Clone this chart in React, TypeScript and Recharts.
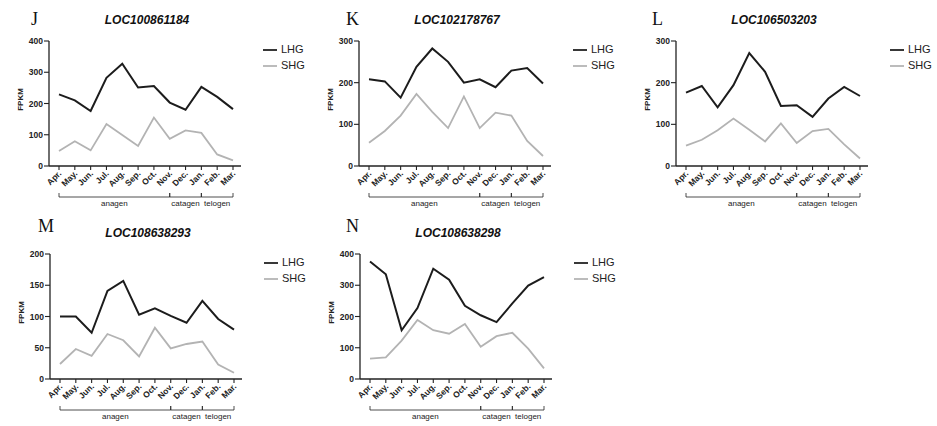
import React from 'react';
import { LineChart, Line, XAxis, YAxis, Legend } from 'recharts';

const months = ['Apr.', 'May.', 'Jun.', 'Jul.', 'Aug.', 'Sep.', 'Oct.', 'Nov.', 'Dec.', 'Jan.', 'Feb.', 'Mar.'];

const phases = [
  { name: 'anagen', from: 'Apr.', to: 'Nov.' },
  { name: 'catagen', from: 'Nov.', to: 'Jan.' },
  { name: 'telogen', from: 'Jan.', to: 'Mar.' },
];

const jLHG = [229, 210, 176, 282, 327, 251, 256, 203, 180, 253, 221, 182];
const jSHG = [48, 79, 50, 134, 99, 64, 155, 87, 114, 106, 37, 18];
const kLHG = [208, 203, 164, 238, 282, 250, 200, 208, 189, 229, 235, 198];
const kSHG = [56, 84, 121, 173, 130, 91, 167, 91, 128, 121, 60, 24];
const lLHG = [176, 192, 141, 194, 271, 226, 144, 146, 118, 162, 190, 168];
const lSHG = [49, 63, 86, 114, 87, 59, 102, 55, 84, 89, 52, 18];
const mLHG = [100, 100, 74, 141, 157, 103, 113, 101, 90, 125, 96, 79];
const mSHG = [24, 48, 37, 72, 62, 36, 82, 49, 56, 60, 23, 10];
const nLHG = [376, 335, 156, 227, 353, 318, 234, 204, 182, 242, 299, 326];
const nSHG = [65, 69, 123, 189, 156, 145, 176, 103, 137, 148, 97, 34];

const ticks400 = [0, 100, 200, 300, 400];
const ticks300 = [0, 100, 200, 300];
const ticks200 = [0, 50, 100, 150, 200];

const FONT = '"Liberation Sans", Arial, sans-serif';
const INK = '#222';

// month label + the phase brackets underneath; ticks render in order so
// the x of the first month of each phase is known when the last one is drawn
function makeMonthTick() {
  const xs: Record<string, number> = {};
  return (props: any) => {
    const { x, y, payload } = props;
    const v = payload.value;
    xs[v] = x;
    const axisY = y - 4;
    const by = axisY + 31;
    const ends = phases.filter((p) => p.to === v);
    return (
      <g>
        <text
          x={x + 3}
          y={y + 4}
          transform={`rotate(-45, ${x + 3}, ${y + 4})`}
          textAnchor="end"
          fontSize={8.5}
          fontWeight="bold"
          fill={INK}
          fontFamily={FONT}
        >
          {v}
        </text>
        {ends.map((p) => {
          const x0 = xs[p.from];
          return (
            <g key={p.name}>
              <line x1={x0} x2={x} y1={by} y2={by} stroke={INK} strokeWidth={0.8} />
              <line x1={x0} x2={x0} y1={by - 4} y2={by} stroke={INK} strokeWidth={0.8} />
              <line x1={x} x2={x} y1={by - 4} y2={by} stroke={INK} strokeWidth={0.8} />
              <text
                x={(x0 + x) / 2}
                y={by + 9}
                textAnchor="middle"
                fontSize={8}
                fill={INK}
                fontFamily={FONT}
              >
                {p.name}
              </text>
            </g>
          );
        })}
      </g>
    );
  };
}

function fpkmLabel(props: any) {
  const { viewBox } = props;
  const cx = viewBox.x + 20;
  const cy = viewBox.y + viewBox.height / 2 - 4;
  return (
    <text
      x={cx}
      y={cy}
      transform={`rotate(-90, ${cx}, ${cy})`}
      textAnchor="middle"
      dominantBaseline="central"
      fontSize={8}
      fontWeight="bold"
      fill={INK}
      fontFamily={FONT}
    >
      FPKM
    </text>
  );
}

interface IPanel {
  letter: string;
  gene: string;
  lhg: number[];
  shg: number[];
  yTicks: number[];
  left: number;
  top: number;
  letterX: number;
  letterY: number;
}

function Panel({ letter, gene, lhg, shg, yTicks, left, top, letterX, letterY }: IPanel) {
  const data = months.map((m, i) => ({ month: m, LHG: lhg[i], SHG: shg[i] }));
  const monthTick = makeMonthTick();
  return (
    <div style={{ position: 'absolute', left, top, width: 310, height: 213 }}>
      <LineChart
        width={310}
        height={213}
        data={data}
        margin={{ top: 41, right: 69, left: 0, bottom: 0 }}
        style={{ fontFamily: FONT }}
      >
        <XAxis
          dataKey="month"
          interval={0}
          height={47}
          tickSize={4}
          tickMargin={0}
          padding={{ left: 10, right: 8 }}
          axisLine={{ stroke: INK, strokeWidth: 1.3 }}
          tickLine={{ stroke: INK, strokeWidth: 1.1 }}
          tick={monthTick}
        />
        <YAxis
          width={49}
          domain={[0, yTicks[yTicks.length - 1]]}
          ticks={yTicks}
          interval={0}
          tickSize={5}
          tickMargin={1}
          axisLine={{ stroke: INK, strokeWidth: 1.3 }}
          tickLine={{ stroke: INK, strokeWidth: 1.1 }}
          tick={{ fontSize: 8.5, fontWeight: 'bold', fill: INK, fontFamily: FONT }}
          label={fpkmLabel}
        />
        <Legend
          layout="vertical"
          align="center"
          verticalAlign="middle"
          iconSize={14}
          wrapperStyle={{ left: 263, top: 41, fontSize: 11, lineHeight: '16px', fontFamily: FONT }}
          formatter={(value: string) => <span style={{ color: INK }}>{value}</span>}
        />
        <Line
          dataKey="LHG"
          type="linear"
          stroke="#1c1c1c"
          strokeWidth={2}
          dot={false}
          legendType="plainline"
          isAnimationActive={false}
        />
        <Line
          dataKey="SHG"
          type="linear"
          stroke="#b3b3b3"
          strokeWidth={1.8}
          dot={false}
          legendType="plainline"
          isAnimationActive={false}
        />
      </LineChart>
      <div
        style={{
          position: 'absolute', left: letterX, top: letterY - 10, lineHeight: '20px',
          fontSize: 18, fontFamily: '"Liberation Serif", serif', color: '#111',
        }}
      >
        {letter}
      </div>
      <div
        style={{
          position: 'absolute', left: 47, top: 13, width: 200, lineHeight: '14px', textAlign: 'center',
          fontSize: 12, fontWeight: 'bold', fontStyle: 'italic', fontFamily: FONT, color: '#111',
        }}
      >
        {gene}
      </div>
    </div>
  );
}

export default function App() {
  return (
    <div style={{ position: 'absolute', left: 0, top: 0, width: 937, height: 426, background: '#fff' }}>
      <Panel letter="J" gene="LOC100861184" lhg={jLHG} shg={jSHG} yTicks={ticks400} left={0} top={0} letterX={31} letterY={19} />
      <Panel letter="K" gene="LOC102178767" lhg={kLHG} shg={kSHG} yTicks={ticks300} left={310} top={0} letterX={36} letterY={19} />
      <Panel letter="L" gene="LOC106503203" lhg={lLHG} shg={lSHG} yTicks={ticks300} left={627} top={0} letterX={25} letterY={19} />
      <Panel letter="M" gene="LOC108638293" lhg={mLHG} shg={mSHG} yTicks={ticks200} left={1} top={213} letterX={37} letterY={13} />
      <Panel letter="N" gene="LOC108638298" lhg={nLHG} shg={nSHG} yTicks={ticks400} left={311} top={213} letterX={35} letterY={13} />
    </div>
  );
}
